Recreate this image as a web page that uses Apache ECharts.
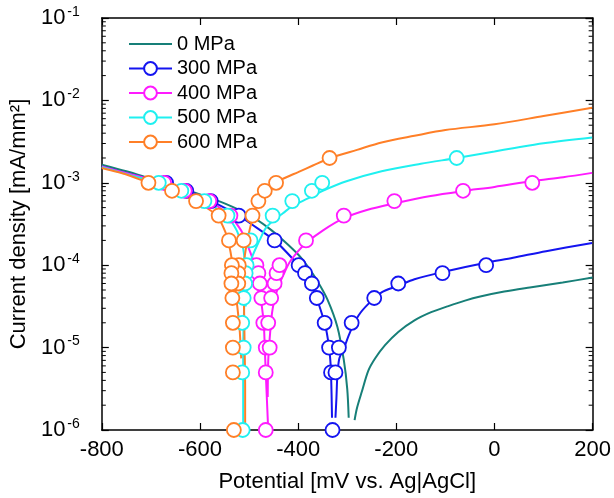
<!DOCTYPE html>
<html>
<head>
<meta charset="utf-8">
<script src="https://cdn.jsdelivr.net/npm/echarts@6/dist/echarts.min.js"></script>
<style>
html,body{margin:0;padding:0;background:#fff;}
#chart{width:614px;height:498px;}
</style>
</head>
<body>
<div id="chart"></div>
<script>
// ---------- data (potential mV, current density mA/mm2) ----------
const seriesNames = ['0 MPa', '300 MPa', '400 MPa', '500 MPa', '600 MPa'];
const seriesColors = ['#177f78', '#1414f0', '#ff1aff', '#1ff0f0', '#ff7f27'];
const xTicks = [-800, -600, -400, -200, 0, 200];
const yTickExponents = [-6, -5, -4, -3, -2, -1];

// 0 MPa (line only)
const mpa0Cathodic = [[-800,1.66e-3],[-750,1.38e-3],[-700,1.12e-3],[-650,9.12e-4],[-600,7.24e-4],[-550,5.62e-4],[-500,4.07e-4],[-460,2.82e-4],[-430,2.0e-4],[-400,1.35e-4],[-380,9.55e-5],[-360,6.31e-5],[-340,3.80e-5],[-320,1.78e-5],[-307,7.08e-6],[-300,3.16e-6],[-297,1.41e-6]];
const mpa0Anodic = [[-285,1.32e-6],[-280,1.86e-6],[-270,2.95e-6],[-257,5.25e-6],[-243,7.41e-6],[-223,1.07e-5],[-196,1.55e-5],[-163,2.14e-5],[-129,2.69e-5],[-96,3.16e-5],[-60,3.72e-5],[-29,4.17e-5],[20,4.79e-5],[72,5.37e-5],[139,6.17e-5],[200,7.08e-5]];

// 300 MPa
const mpa300Cathodic = [[-800,1.58e-3],[-740,1.26e-3],[-669,1.0e-3],[-628,8.13e-4],[-578,6.03e-4],[-521,3.98e-4],[-448,2.0e-4],[-399,1.0e-4],[-386,7.94e-5],[-372,6.03e-5],[-362,3.98e-5],[-346,2.0e-5],[-337,1.0e-5],[-333,5.0e-6],[-331,1.41e-6]];
const mpa300Anodic = [[-324,1.41e-6],[-322,2.45e-6],[-320,4.68e-6],[-316,7.41e-6],[-307,9.77e-6],[-294,1.55e-5],[-277,2.45e-5],[-257,3.39e-5],[-230,4.68e-5],[-196,5.62e-5],[-163,6.76e-5],[-96,8.51e-5],[-17,1.07e-4],[38,1.23e-4],[105,1.48e-4],[199,1.86e-4]];
const mpa300Points = [[-669,1e-3],[-628,8e-4],[-578,6e-4],[-521,4e-4],[-448,2e-4],[-399,1e-4],[-386,8e-5],[-372,6e-5],[-362,4e-5],[-346,2e-5],[-337,1e-5],[-333,5e-6],[-330,1e-6],[-324,5e-6],[-317,1e-5],[-291,2e-5],[-245,4e-5],[-196,6e-5],[-106,8e-5],[-17,1e-4]];

// 400 MPa
const mpa400Cathodic = [[-800,1.58e-3],[-740,1.26e-3],[-673,1.0e-3],[-631,7.94e-4],[-581,6.03e-4],[-538,3.98e-4],[-515,2.57e-4],[-501,1.62e-4],[-490,1.07e-4],[-486,7.94e-5],[-480,6.03e-5],[-476,3.98e-5],[-470,2.0e-5],[-468,1.0e-5],[-466,5.0e-6],[-461,1.0e-6]];
const mpa400Anodic = [[-462,2.51e-6],[-461,6.76e-6],[-458,1.29e-5],[-452,2.95e-5],[-440,5.62e-5],[-431,7.41e-5],[-418,1.07e-4],[-400,1.48e-4],[-384,1.86e-4],[-350,2.63e-4],[-307,3.72e-4],[-260,4.68e-4],[-204,5.62e-4],[-130,6.92e-4],[-64,7.94e-4],[0,8.91e-4],[77,1.05e-3],[140,1.17e-3],[199,1.32e-3]];
const mpa400Points = [[-673,1e-3],[-631,8e-4],[-581,6e-4],[-538,4e-4],[-485,1e-4],[-481,8e-5],[-478,6e-5],[-475,4e-5],[-471,2e-5],[-466,1e-5],[-466,5e-6],[-466,1e-6],[-461,2e-5],[-458,1e-5],[-455,4e-5],[-448,6e-5],[-444,8e-5],[-438,1e-4],[-384,2e-4],[-307,4e-4],[-204,6e-4],[-64,8e-4],[77,1e-3]];

// 500 MPa
const mpa500Cathodic = [[-800,1.55e-3],[-740,1.23e-3],[-684,1.0e-3],[-638,7.94e-4],[-591,6.03e-4],[-544,3.98e-4],[-525,2.63e-4],[-512,1.58e-4],[-508,1.0e-4],[-508,6.31e-5],[-510,3.16e-5],[-512,1.0e-5],[-512,1.0e-6]];
const mpa500Anodic = [[-507,3.16e-5],[-503,7.08e-5],[-495,1.20e-4],[-478,2.04e-4],[-466,2.82e-4],[-451,3.47e-4],[-431,4.27e-4],[-411,5.25e-4],[-380,6.46e-4],[-351,7.94e-4],[-300,1.05e-3],[-230,1.38e-3],[-150,1.70e-3],[-77,2.0e-3],[0,2.40e-3],[38,2.63e-3],[100,3.02e-3],[199,3.55e-3]];
const mpa500Points = [[-684,1e-3],[-638,8e-4],[-591,6e-4],[-544,4e-4],[-505,1e-4],[-507,8e-5],[-508,6e-5],[-511,4e-5],[-514,2e-5],[-511,1e-5],[-514,5e-6],[-513,1e-6],[-497,2e-4],[-452,4e-4],[-412,6e-4],[-372,8e-4],[-351,1e-3],[-77,2e-3]];

// 600 MPa
const mpa600Cathodic = [[-800,1.51e-3],[-750,1.26e-3],[-704,1.0e-3],[-657,7.94e-4],[-604,5.75e-4],[-565,3.98e-4],[-545,2.24e-4],[-535,1.15e-4],[-530,6.03e-5],[-524,3.16e-5],[-519,1.58e-5],[-516,7.41e-6]];
const mpa600Anodic = [[-508,1.0e-6],[-508,3.16e-6],[-509,1.0e-5],[-510,2.51e-5],[-511,6.31e-5],[-510,1.12e-4],[-505,1.78e-4],[-498,2.82e-4],[-490,4.17e-4],[-480,6.03e-4],[-468,7.94e-4],[-445,1.0e-3],[-431,1.12e-3],[-400,1.35e-3],[-370,1.62e-3],[-334,2.0e-3],[-280,2.51e-3],[-230,3.09e-3],[-163,3.72e-3],[-100,4.37e-3],[0,5.13e-3],[100,6.46e-3],[199,8.13e-3]];
const mpa600Points = [[-705,1e-3],[-657,8e-4],[-608,6e-4],[-562,4e-4],[-541,2e-4],[-521,1e-4],[-522,8e-5],[-522,6e-5],[-535,1e-4],[-536,8e-5],[-536,6e-5],[-534,4e-5],[-533,2e-5],[-533,1e-5],[-533,5e-6],[-531,1e-6],[-511,2e-4],[-493,4e-4],[-481,6e-4],[-468,8e-4],[-445,1e-3],[-336,2e-3]];

// log-axis minor tick positions
const yMinorTicks = [2e-6,3e-6,4e-6,5e-6,6e-6,7e-6,8e-6,9e-6,2e-5,3e-5,4e-5,5e-5,6e-5,7e-5,8e-5,9e-5,2e-4,3e-4,4e-4,5e-4,6e-4,7e-4,8e-4,9e-4,2e-3,3e-3,4e-3,5e-3,6e-3,7e-3,8e-3,9e-3,2e-2,3e-2,4e-2,5e-2,6e-2,7e-2,8e-2,9e-2];

// ---------- chart ----------
const FONT = '"Liberation Sans", Arial, sans-serif';
const xMin = xTicks[0], xMax = xTicks[xTicks.length - 1];
const yMin = Math.pow(10, yTickExponents[0]), yMax = Math.pow(10, yTickExponents[yTickExponents.length - 1]);

function lineSeries(name, color, data, withSymbol, smooth) {
  return {
    name: name, type: 'line', data: data,
    symbol: withSymbol ? 'emptyCircle' : 'none', symbolSize: 14, showSymbol: false,
    smooth: smooth,
    lineStyle: { color: color, width: 2 },
    itemStyle: { color: color, borderColor: color, borderWidth: 2 },
    clip: false, silent: true, z: 3
  };
}
function pointSeries(name, color, data) {
  return {
    name: name, type: 'scatter', data: data,
    symbol: 'circle', symbolSize: 14,
    itemStyle: { color: '#ffffff', borderColor: color, borderWidth: 1.8, opacity: 1 },
    clip: false, silent: true, z: 4
  };
}

const series = [
  lineSeries(seriesNames[0], seriesColors[0], mpa0Cathodic, false, 0.3),
  lineSeries(seriesNames[0], seriesColors[0], mpa0Anodic, false, 0.3),
  lineSeries(seriesNames[1], seriesColors[1], mpa300Cathodic, true, 0.15),
  lineSeries(seriesNames[1], seriesColors[1], mpa300Anodic, true, 0.3),
  pointSeries(seriesNames[1], seriesColors[1], mpa300Points),
  lineSeries(seriesNames[2], seriesColors[2], mpa400Cathodic, true, 0.15),
  lineSeries(seriesNames[2], seriesColors[2], mpa400Anodic, true, 0.3),
  pointSeries(seriesNames[2], seriesColors[2], mpa400Points),
  lineSeries(seriesNames[3], seriesColors[3], mpa500Cathodic, true, 0.15),
  lineSeries(seriesNames[3], seriesColors[3], mpa500Anodic, true, 0.3),
  pointSeries(seriesNames[3], seriesColors[3], mpa500Points),
  lineSeries(seriesNames[4], seriesColors[4], mpa600Cathodic, true, 0.2),
  lineSeries(seriesNames[4], seriesColors[4], mpa600Anodic, true, 0.3),
  pointSeries(seriesNames[4], seriesColors[4], mpa600Points),
  {
    name: 'minorTicks', type: 'custom', silent: true, clip: false, z: 2,
    data: yMinorTicks.map(v => [xMin, v]),
    encode: { x: 0, y: 1 },
    renderItem: function (params, api) {
      const v = api.value(1);
      const l = api.coord([xMin, v]);
      const r = api.coord([xMax, v]);
      const st = { stroke: '#000', lineWidth: 1 };
      return { type: 'group', children: [
        { type: 'line', shape: { x1: l[0], y1: l[1], x2: l[0] + 4, y2: l[1] }, style: st },
        { type: 'line', shape: { x1: r[0] - 4, y1: r[1], x2: r[0], y2: r[1] }, style: st }
      ]};
    }
  }
];

const axisLineStyle = { show: true, onZero: false, lineStyle: { color: '#000', width: 1.5 } };
const tickStyle = { show: true, inside: true, length: 7, lineStyle: { color: '#000', width: 1.2 } };
const legendData = seriesNames.map((n, i) => i === 0 ? { name: n, itemStyle: { opacity: 0 } } : { name: n });

const option = {
  animation: false,
  backgroundColor: '#ffffff',
  grid: { left: 95, right: 20, top: 18, bottom: 66, containLabel: false },
  legend: {
    orient: 'vertical', left: 123, top: 29,
    itemWidth: 43, itemHeight: 16, itemGap: 4.5,
    data: legendData,
    textStyle: { fontSize: 20, fontFamily: FONT, color: '#000', padding: [0, 0, 0, 0] },
    selectedMode: false
  },
  xAxis: [
    {
      type: 'value', min: xMin, max: xMax, interval: 200, position: 'bottom',
      axisLine: axisLineStyle, axisTick: tickStyle,
      axisLabel: { fontSize: 22, fontFamily: FONT, color: '#000', margin: 9 },
      splitLine: { show: false },
      name: 'Potential [mV vs. Ag|AgCl]', nameLocation: 'middle', nameGap: 41,
      nameTextStyle: { fontSize: 22, fontFamily: FONT, color: '#000' }
    },
    {
      type: 'value', min: xMin, max: xMax, interval: 200, position: 'top',
      axisLine: axisLineStyle, axisTick: tickStyle,
      axisLabel: { show: false }, splitLine: { show: false }
    }
  ],
  yAxis: [
    {
      type: 'log', logBase: 10, min: yMin, max: yMax, position: 'left',
      axisLine: axisLineStyle, axisTick: tickStyle,
      axisLabel: {
        margin: 22, color: '#000',
        formatter: function (v) { return '{b|10}{s|' + Math.round(Math.log10(v)) + '}'; },
        rich: {
          b: { fontSize: 22, fontFamily: FONT, color: '#000', lineHeight: 26, verticalAlign: 'middle' },
          s: { fontSize: 14, fontFamily: FONT, color: '#000', lineHeight: 16, verticalAlign: 'top', padding: [0, 0, 0, 2] }
        }
      },
      splitLine: { show: false },
      name: 'Current density [mA/mm²]', nameLocation: 'middle', nameGap: 60,
      nameTextStyle: { fontSize: 22, fontFamily: FONT, color: '#000' }
    },
    {
      type: 'log', logBase: 10, min: yMin, max: yMax, position: 'right',
      axisLine: axisLineStyle, axisTick: tickStyle,
      axisLabel: { show: false }, splitLine: { show: false }
    }
  ],
  series: series
};

const chart = echarts.init(document.getElementById('chart'), null, { renderer: 'canvas' });
chart.setOption(option);
</script>
</body>
</html>
